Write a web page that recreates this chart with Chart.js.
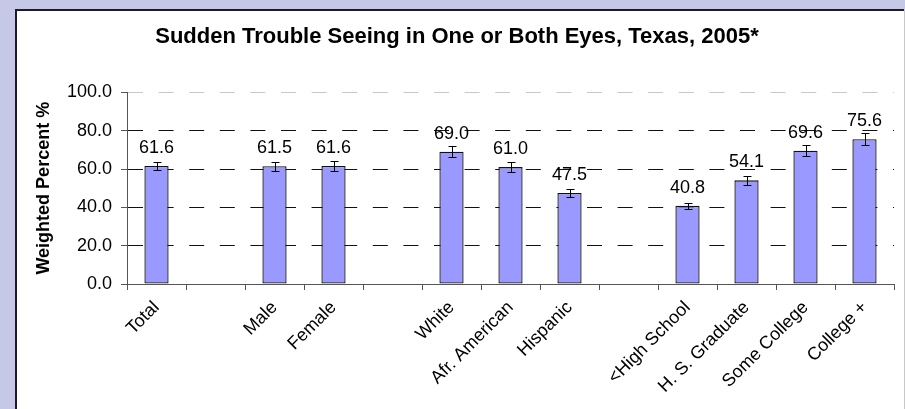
<!DOCTYPE html>
<html>
<head>
<meta charset="utf-8">
<script src="https://cdn.jsdelivr.net/npm/chart.js@4.4.0/dist/chart.umd.min.js"></script>
<style>
  html, body { margin: 0; padding: 0; background: #c5c9e7; }
  #wrap { width: 905px; height: 409px; }
</style>
</head>
<body>
<div id="wrap"><canvas id="myChart" width="905" height="409"></canvas></div>
<script>
// categories, with blank slots for the gaps between groups
const categories = ['Total', '', 'Male', 'Female', '', 'White', 'Afr. American', 'Hispanic', '', '<High School', 'H. S. Graduate', 'Some College', 'College +'];
const percentValues = [61.6, null, 61.5, 61.6, null, 69.0, 61.0, 47.5, null, 40.8, 54.1, 69.6, 75.6];
// half width of the confidence interval
const errorValues = [2.3, null, 2.4, 2.5, null, 2.8, 2.7, 1.9, null, 1.6, 2.2, 2.8, 3.3];
const yTicks = [0, 20, 40, 60, 80, 100];

const FONT = '"Liberation Sans", Arial, sans-serif';
Chart.defaults.font.family = FONT;
Chart.defaults.color = '#000';

// lavender frame + white panel behind the chart
const panelBg = {
  id: 'panelBg',
  beforeDraw(chart) {
    const c = chart.ctx;
    c.save();
    c.fillStyle = '#c5c9e7';
    c.fillRect(0, 0, chart.width, chart.height);
    c.fillStyle = '#ffffff';
    c.fillRect(17, 11, 887, chart.height);
    c.fillStyle = '#1c1c28';
    c.fillRect(15, 9, 889, 2);
    c.fillRect(15, 9, 2, chart.height);
    c.fillStyle = '#c8c8c8';
    c.fillRect(904, 11, 1, chart.height);
    c.restore();
  }
};

// error bars and value labels
const barExtras = {
  id: 'barExtras',
  afterDatasetsDraw(chart) {
    const c = chart.ctx;
    const y = chart.scales.y;
    const meta = chart.getDatasetMeta(0);
    c.save();
    c.strokeStyle = '#000';
    c.lineWidth = 1;
    meta.data.forEach(function(el, i) {
      let v = percentValues[i];
      let e = errorValues[i];
      if (v === null) return;
      let x = Math.round(el.x) + 0.5;
      let top = Math.round(y.getPixelForValue(v + e)) + 0.5;
      let bot = Math.round(y.getPixelForValue(v - e)) + 0.5;
      c.beginPath();
      c.moveTo(x, top); c.lineTo(x, bot);
      c.moveTo(x - 4, top); c.lineTo(x + 4, top);
      c.moveTo(x - 4, bot); c.lineTo(x + 4, bot);
      c.stroke();
    });
    c.fillStyle = '#000';
    c.font = '18px ' + FONT;
    c.textAlign = 'center';
    c.textBaseline = 'middle';
    meta.data.forEach(function(el, i) {
      let v = percentValues[i];
      if (v === null) return;
      c.fillText(v.toFixed(1), el.x, el.y - 18);
    });
    c.restore();
  }
};

const ctx = document.getElementById('myChart');

new Chart(ctx, {
  type: 'bar',
  data: {
    labels: categories,
    datasets: [{
      data: percentValues,
      backgroundColor: '#9999ff',
      borderColor: '#111111',
      borderWidth: 1.3,
      borderSkipped: false,
      barPercentage: 0.41,
      categoryPercentage: 1.0
    }]
  },
  options: {
    responsive: false,
    animation: false,
    events: [],
    layout: { padding: { left: 20, right: 11, top: 10, bottom: 0 } },
    plugins: {
      legend: { display: false },
      tooltip: { enabled: false },
      title: {
        display: true,
        text: 'Sudden Trouble Seeing in One or Both Eyes, Texas, 2005*',
        font: { size: 22, weight: 'bold' },
        color: '#000',
        padding: { top: 14, bottom: 42 }
      }
    },
    scales: {
      x: {
        border: { color: '#555', width: 1 },
        grid: { offset: true, drawOnChartArea: false, drawTicks: true, tickLength: 6, tickColor: '#555' },
        ticks: { autoSkip: false, minRotation: 45, maxRotation: 45, padding: 7, font: { size: 18 }, color: '#000' },
        afterFit(scale) { scale.height = 125; }
      },
      y: {
        min: 0,
        max: 100,
        border: { color: '#555', width: 1, dash: [15, 15.6] },
        grid: {
          color: function(c) {
            if (c.tick.value === 0) return 'rgba(0,0,0,0)';
            if (c.tick.value === 100) return '#c8c8c8';
            return '#111';
          },
          tickLength: 6,
          tickColor: '#555',
          tickBorderDash: []
        },
        afterBuildTicks(scale) { scale.ticks = yTicks.map(v => ({ value: v })); },
        ticks: {
          padding: 9,
          font: { size: 18 },
          color: '#000',
          callback: function(v) { return Number(v).toFixed(1); }
        },
        title: {
          display: true,
          text: 'Weighted Percent %',
          font: { size: 18, weight: 'bold' },
          color: '#000',
          padding: { top: 13, bottom: 4 }
        },
        afterFit(scale) { scale.width = 107; }
      }
    }
  },
  plugins: [panelBg, barExtras]
});
</script>
</body>
</html>
